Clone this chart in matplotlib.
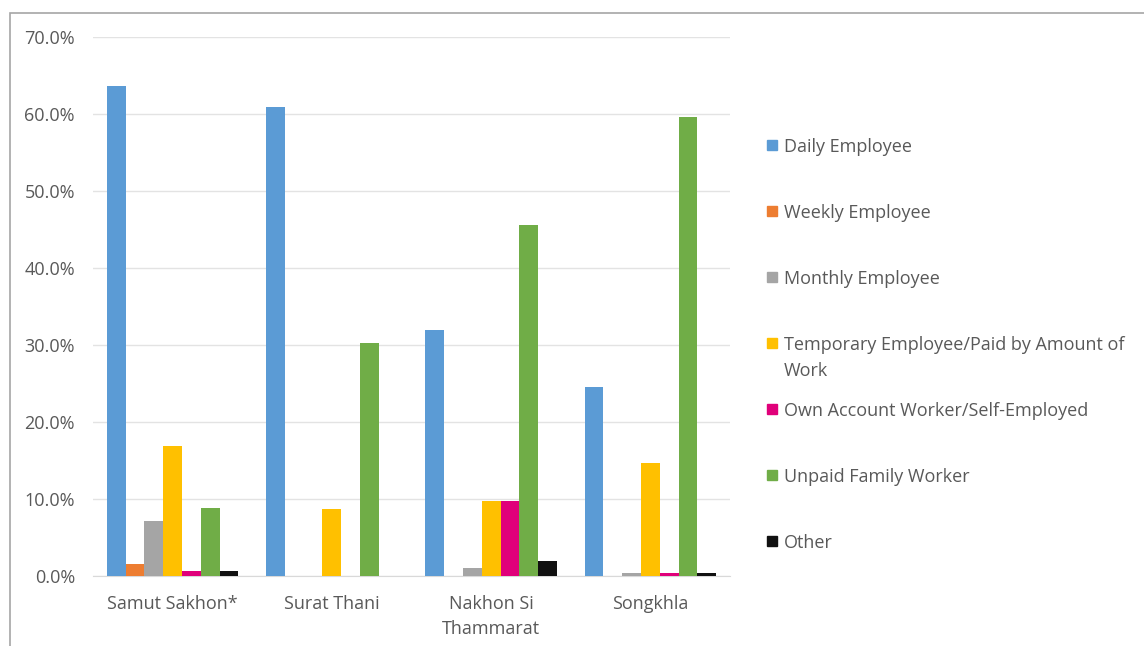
import matplotlib.pyplot as plt
import numpy as np
from matplotlib.patches import Rectangle

plt.rcParams['font.family'] = ['Open Sans', 'DejaVu Sans']

# Datos
regions = ['Samut Sakhon*', 'Surat Thani', 'Nakhon Si\nThammarat', 'Songkhla']
series = ['Daily Employee', 'Weekly Employee', 'Monthly Employee',
          'Temporary Employee/Paid by Amount of\nWork',
          'Own Account Worker/Self-Employed', 'Unpaid Family Worker', 'Other']
daily = [63.7, 60.9, 32.0, 24.6]
weekly = [1.6, 0.0, 0.0, 0.0]
monthly = [7.2, 0.0, 1.0, 0.4]
temporary = [16.9, 8.7, 9.8, 14.7]
own_account = [0.7, 0.0, 9.8, 0.4]
unpaid = [8.8, 30.3, 45.6, 59.6]
other = [0.7, 0.0, 1.9, 0.4]
values = [daily, weekly, monthly, temporary, own_account, unpaid, other]
colors = ['#5b9bd5', '#ed7d31', '#a5a5a5', '#ffc000', '#e0007a', '#70ad47', '#111111']

W, H = 1144, 646
fs = 13
fig = plt.figure(figsize=(W / 100, H / 100), dpi=100)
ax = fig.add_axes([93 / W, 1 - 576 / H, (730 - 93) / W, (576 - 37) / H])

# Barras agrupadas
x = np.arange(len(regions))
bw = 0.118
for i, (vals, col) in enumerate(zip(values, colors)):
    ax.bar(x + (i - 3) * bw, vals, width=bw, color=col, zorder=3)

ax.set_xlim(-0.5, len(regions) - 0.5)
ax.set_ylim(0, 70)
ax.set_yticks(np.arange(0, 71, 10))
ax.set_yticklabels([f'{v:.1f}%' for v in np.arange(0, 71, 10)])
ax.set_xticks(x)
ax.set_xticklabels(regions)
ax.tick_params(length=0, labelsize=fs, colors='#595959')
ax.tick_params(axis='x', pad=14)
ax.tick_params(axis='y', pad=13)
for t in ax.get_xticklabels():
    t.set_linespacing(1.5)
ax.grid(axis='y', color='#e3e3e3', linewidth=1, zorder=0)
for s in ['top', 'right', 'left']:
    ax.spines[s].set_visible(False)
ax.spines['bottom'].set_color('#d9d9d9')

# Leyenda manual
for i, (name, col) in enumerate(zip(series, colors)):
    yc = 1 - (145 + 66 * i) / H
    fig.add_artist(Rectangle((767 / W, yc - 5 / H), 10 / W, 10 / H,
                             transform=fig.transFigure, color=col))
    fig.text(784 / W, yc + 7 / H, name, fontsize=fs, color='#595959',
             va='top', ha='left', linespacing=1.55)

# Borde exterior
fig.add_artist(Rectangle((10 / W, -0.05), 1.2, 1 - 13 / H + 0.05,
                         transform=fig.transFigure, fill=False,
                         edgecolor='#a6a6a6', linewidth=1.2))

fig.savefig('out.png', dpi=100)
